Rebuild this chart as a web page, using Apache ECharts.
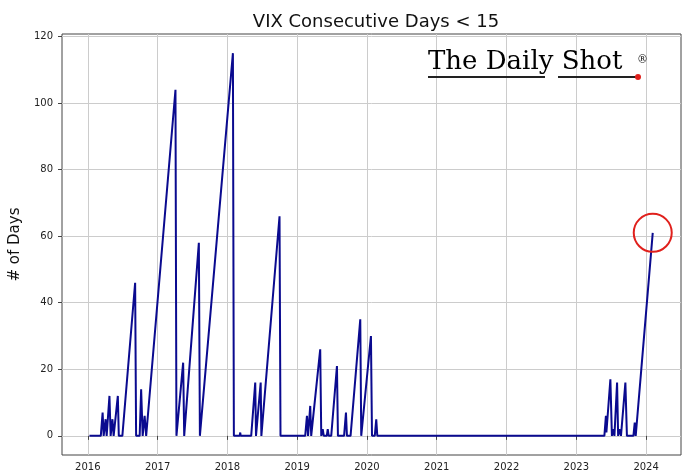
<!DOCTYPE html>
<html>
<head>
<meta charset="utf-8">
<script src="https://cdn.jsdelivr.net/npm/echarts@6/dist/echarts.min.js"></script>
<style>
  html, body { margin: 0; padding: 0; background: #fff; }
  #chart { width: 683px; height: 475px; }
</style>
</head>
<body>
<div id="chart"></div>
<script>
// x = decimal year, y = consecutive days with VIX < 15 (vertices)
const years = [
  2016.023, 2016.186, 2016.212, 2016.227, 2016.255, 2016.270, 2016.310, 2016.327,
  2016.353, 2016.370, 2016.430, 2016.444, 2016.495, 2016.678, 2016.692, 2016.743,
  2016.764, 2016.786, 2016.814, 2016.836, 2017.256, 2017.270, 2017.366, 2017.381,
  2017.591, 2017.606, 2018.079, 2018.093, 2018.176, 2018.184, 2018.191, 2018.341,
  2018.399, 2018.410, 2018.477, 2018.487, 2018.747, 2018.761, 2019.115, 2019.140,
  2019.156, 2019.187, 2019.201, 2019.227, 2019.330, 2019.345, 2019.366, 2019.381,
  2019.424, 2019.438, 2019.452, 2019.488, 2019.570, 2019.584, 2019.672, 2019.699,
  2019.713, 2019.765, 2019.904, 2019.918, 2019.933, 2020.057, 2020.072, 2020.112,
  2020.133, 2020.148, 2023.402, 2023.424, 2023.431, 2023.488, 2023.510, 2023.531,
  2023.546, 2023.584, 2023.599, 2023.617, 2023.640, 2023.703, 2023.725, 2023.818,
  2023.837, 2023.851, 2024.095
];
const days = [
  0, 0, 7, 0, 5, 0, 12, 0,
  5, 0, 12, 0, 0, 46, 0, 0,
  14, 0, 6, 0, 104, 0, 22, 0,
  58, 0, 115, 0, 0, 1, 0, 0,
  16, 0, 16, 0, 66, 0, 0, 6,
  0, 9, 0, 0, 26, 0, 2, 0,
  0, 2, 0, 0, 21, 0, 0, 7,
  0, 0, 35, 0, 0, 30, 0, 0,
  5, 0, 0, 6, 1, 17, 0, 2,
  0, 16, 0, 2, 0, 16, 0, 0,
  4, 0, 61
];
const xTicks = [2016, 2017, 2018, 2019, 2020, 2021, 2022, 2023, 2024];
const yTicks = [0, 20, 40, 60, 80, 100, 120];
// the latest reading, circled in red
const lastPoint = [years[years.length - 1], days[days.length - 1]];

const chart = echarts.init(document.getElementById('chart'));

const tickFont = { fontFamily: 'DejaVu Sans', fontSize: 10, color: '#222' };

const option = {
  animation: false,
  backgroundColor: '#fff',
  title: {
    text: 'VIX Consecutive Days < 15',
    left: 371,
    textAlign: 'center',
    top: 8,
    textStyle: { fontFamily: 'DejaVu Sans', fontSize: 18, fontWeight: 'normal', color: '#111' }
  },
  grid: {
    left: 62, right: 2, top: 34, bottom: 20,
    show: true, borderColor: '#444', borderWidth: 1,
    outerBoundsMode: 'none'
  },
  xAxis: {
    type: 'value',
    min: 2015.63,
    max: 2024.5,
    axisLine: { show: false },
    axisTick: { show: true, length: 4, customValues: xTicks, lineStyle: { color: '#444' } },
    axisLabel: { ...tickFont, margin: 7, customValues: xTicks, formatter: v => String(v) },
    splitLine: { show: true, lineStyle: { color: '#cccccc', width: 1 } }
  },
  yAxis: {
    type: 'value',
    min: -5.75,
    max: 120.75,
    name: '# of Days',
    nameLocation: 'middle',
    nameGap: 31,
    nameTextStyle: { fontFamily: 'DejaVu Sans', fontSize: 15, color: '#111' },
    axisLine: { show: false },
    axisTick: { show: true, length: 4, customValues: yTicks, lineStyle: { color: '#444' } },
    axisLabel: { ...tickFont, margin: 9, customValues: yTicks },
    splitLine: { show: true, lineStyle: { color: '#cccccc', width: 1 } }
  },
  series: [
    {
      type: 'line',
      data: years.map((y, i) => [y, days[i]]),
      showSymbol: false,
      lineStyle: { color: '#0a0a8f', width: 2 },
      itemStyle: { color: '#0a0a8f' },
      markPoint: {
        symbol: 'circle',
        symbolSize: 38,
        silent: true,
        label: { show: false },
        itemStyle: { color: 'rgba(0,0,0,0)', borderColor: '#e0201c', borderWidth: 2 },
        data: [{ coord: lastPoint }]
      }
    }
  ],
  graphic: [
    {
      type: 'text', left: 428, top: 49, z: 10,
      style: { text: 'The Daily Shot', font: '26px "DejaVu Serif"', fill: '#000' }
    },
    {
      type: 'text', left: 637, top: 55, z: 10,
      style: { text: '®', font: '11px "DejaVu Serif"', fill: '#111' }
    },
    {
      type: 'line', z: 10,
      shape: { x1: 428, y1: 77, x2: 545, y2: 77 },
      style: { stroke: '#222', lineWidth: 2 }
    },
    {
      type: 'line', z: 10,
      shape: { x1: 558, y1: 77, x2: 636, y2: 77 },
      style: { stroke: '#222', lineWidth: 2 }
    },
    {
      type: 'circle', z: 10,
      shape: { cx: 638, cy: 77, r: 3 },
      style: { fill: '#e0201c' }
    }
  ]
};

chart.setOption(option);
window.addEventListener('resize', () => chart.resize());
</script>
</body>
</html>
